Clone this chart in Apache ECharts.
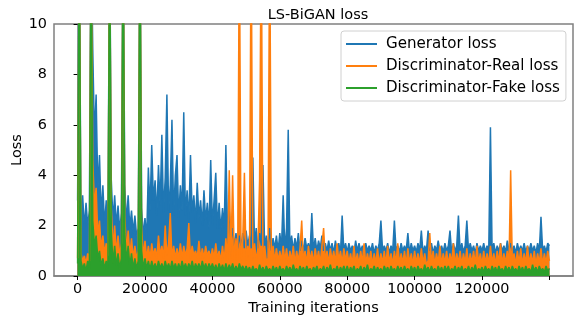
<!DOCTYPE html>
<html>
<head>
<meta charset="utf-8">
<script src="https://cdn.jsdelivr.net/npm/echarts@6/dist/echarts.min.js"></script>
<style>
  html, body { margin: 0; padding: 0; background: #fff; }
  #main { width: 575px; height: 320px; }
</style>
</head>
<body>
<div id="main"></div>
<script>
// one sample every 500 iterations (noise shown as high/low swings)
var STEP = 500;
var xTicks = [0, 20000, 40000, 60000, 80000, 100000, 120000, 140000];
var xTickLabels = [0, 20000, 40000, 60000, 80000, 100000, 120000];
var seriesNames = ['Generator loss', 'Discriminator-Real loss', 'Discriminator-Fake loss'];

var genLoss = [
  3.0, 14, 2.0, 3.2, 1.9, 2.9, 2.0, 2.6, 14, 9.0, 5.5, 7.2, 3.4, 4.8, 2.4, 3.6, 2.0, 3.0, 1.8, 14,
  3.8, 2.2, 3.2, 2.0, 2.8, 1.8, 2.5, 14, 3.6, 2.1, 3.2, 1.9, 2.6, 1.7, 2.4, 1.6, 1.9, 14, 2.7, 1.6,
  2.3, 1.5, 4.3, 2.6, 5.2, 3.0, 3.8, 2.4, 4.4, 2.8, 5.6, 2.5, 3.9, 7.2, 2.6, 3.6, 6.2, 2.4, 4.0, 4.8,
  2.3, 3.6, 2.6, 6.5, 2.4, 3.4, 2.2, 4.8, 2.5, 3.2, 2.1, 3.7, 2.3, 3.0, 2.0, 3.4, 2.2, 2.9, 1.9, 4.6,
  2.0, 3.0, 4.1, 1.9, 2.9, 1.8, 2.7, 1.9, 5.2, 1.7, 2.6, 1.4, 1.9, 1.2, 1.7, 1.1, 1.6, 1.2, 1.7, 1.1,
  1.8, 1.2, 1.6, 1.1, 4.7, 1.2, 1.9, 1.1, 1.7, 1.2, 4.4, 1.1, 1.6, 1.1, 1.9, 1.0, 1.5, 1.1, 1.6, 1.0,
  1.7, 1.1, 3.2, 1.0, 1.9, 5.8, 1.1, 1.6, 1.0, 1.5, 1.1, 1.7, 1.0, 1.4, 1.0, 1.5, 1.1, 1.3, 1.0, 2.5,
  1.0, 1.5, 1.0, 1.4, 1.1, 1.6, 1.0, 1.3, 1.0, 1.4, 1.0, 1.3, 0.9, 1.4, 1.0, 1.3, 0.9, 2.4, 1.0, 1.3,
  0.95, 1.3, 1.0, 1.2, 0.9, 1.4, 1.0, 1.3, 1.0, 1.2, 0.95, 1.3, 1.0, 1.2, 1.0, 1.3, 0.9, 1.2, 1.0, 1.3,
  2.2, 1.0, 1.2, 1.0, 1.3, 0.9, 1.2, 1.0, 2.2, 1.0, 1.2, 0.95, 1.3, 1.0, 1.2, 1.0, 1.7, 0.9, 1.3, 1.0,
  1.2, 0.95, 1.3, 1.0, 1.8, 0.9, 1.2, 1.0, 1.8, 1.0, 1.3, 0.9, 1.2, 1.0, 1.4, 1.0, 1.2, 0.95, 1.3, 1.0,
  1.2, 1.8, 0.9, 1.3, 1.0, 1.2, 2.4, 1.0, 1.3, 0.95, 1.2, 2.2, 1.0, 1.3, 1.0, 1.2, 0.9, 1.3, 1.0, 1.2,
  1.0, 1.3, 0.95, 1.2, 1.0, 5.9, 1.0, 1.3, 0.9, 1.2, 1.0, 1.3, 1.0, 1.2, 0.95, 1.4, 1.0, 1.3, 1.0, 1.2,
  0.9, 1.3, 1.0, 1.2, 1.0, 1.3, 0.95, 1.2, 1.0, 1.3, 1.0, 1.2, 0.9, 1.3, 1.0, 2.35, 1.0, 1.2, 0.95, 1.3,
  1.2
];

var realLoss = [
  0.7, 14, 0.9, 0.6, 0.8, 0.5, 0.9, 0.6, 14, 4.6, 2.8, 3.5, 1.6, 2.2, 1.1, 1.6, 0.9, 1.3, 0.8, 14,
  2.7, 1.1, 2.0, 0.9, 1.6, 0.8, 1.3, 14, 2.4, 1.0, 1.8, 0.8, 1.5, 0.7, 1.2, 0.7, 1.0, 14, 1.9, 0.8,
  1.4, 0.7, 1.2, 0.7, 1.3, 0.8, 1.1, 0.7, 1.6, 0.8, 1.2, 0.7, 2.0, 0.8, 1.3, 2.5, 0.7, 1.2, 0.7, 1.1,
  0.7, 1.3, 0.7, 1.2, 0.8, 1.1, 2.1, 0.7, 1.2, 0.8, 1.0, 0.7, 1.4, 0.7, 1.1, 0.7, 1.2, 0.8, 1.0, 0.7,
  1.1, 0.7, 1.3, 0.7, 1.0, 0.6, 1.2, 0.6, 1.5, 0.6, 4.2, 0.7, 4.0, 0.6, 1.5, 0.6, 14, 0.6, 1.4, 4.1,
  0.6, 1.2, 0.6, 14, 0.6, 1.3, 0.6, 1.1, 3.8, 14, 0.6, 1.2, 0.6, 0.7, 14, 0.6, 1.2, 0.6, 1.1, 0.6,
  1.0, 0.6, 1.2, 0.6, 1.1, 0.5, 1.0, 0.6, 1.2, 0.5, 1.0, 0.6, 1.1, 2.2, 0.6, 1.0, 0.5, 1.2, 0.6, 1.0,
  0.5, 1.1, 0.6, 1.0, 0.5, 1.2, 1.9, 0.6, 1.0, 0.5, 1.1, 0.6, 1.0, 0.5, 1.3, 0.6, 1.0, 0.5, 1.1, 0.6,
  1.0, 0.5, 0.9, 0.45, 1.2, 0.5, 0.9, 0.45, 1.0, 0.5, 1.3, 0.45, 0.9, 0.5, 1.0, 0.45, 0.9, 0.5, 1.1, 0.45,
  0.9, 0.5, 1.0, 0.45, 1.2, 0.5, 0.9, 0.45, 1.0, 0.5, 1.3, 0.45, 0.9, 0.5, 1.0, 0.45, 1.1, 0.5, 0.9, 0.45,
  1.0, 0.5, 0.9, 0.45, 1.1, 0.5, 0.9, 0.45, 0.6, 1.7, 0.5, 1.0, 0.45, 0.9, 0.5, 1.2, 0.45, 0.9, 0.5, 1.0,
  0.45, 0.9, 0.5, 1.3, 0.45, 0.9, 0.5, 1.0, 0.45, 0.9, 0.5, 1.1, 0.45, 0.9, 0.5, 1.0, 0.45, 1.2, 0.5, 0.9,
  0.45, 1.0, 0.5, 0.9, 0.45, 1.2, 0.5, 0.9, 0.45, 1.0, 0.5, 1.3, 0.45, 0.9, 0.5, 1.0, 0.45, 4.2, 0.5, 0.9,
  0.45, 1.0, 0.5, 1.1, 0.45, 0.9, 0.5, 1.2, 0.45, 0.9, 0.5, 1.0, 0.45, 0.9, 0.5, 1.1, 0.45, 0.9, 0.5, 1.0,
  0.6
];

var fakeLoss = [
  0.5, 14, 0.6, 0.3, 0.5, 0.2, 0.6, 0.3, 14, 2.2, 1.2, 1.6, 0.7, 1.0, 0.4, 0.7, 0.3, 0.6, 0.3, 14,
  1.8, 0.5, 1.2, 0.4, 0.9, 0.3, 0.7, 14, 1.7, 0.6, 1.2, 0.4, 0.9, 0.3, 0.7, 0.3, 0.6, 14, 1.0, 0.3,
  0.7, 0.3, 0.6, 0.25, 0.6, 0.3, 0.5, 0.25, 0.6, 0.3, 0.5, 0.25, 0.6, 0.3, 0.5, 0.25, 0.6, 0.3, 0.5, 0.25,
  0.5, 0.25, 0.6, 0.3, 0.5, 0.25, 0.5, 0.3, 0.6, 0.25, 0.5, 0.3, 0.5, 0.25, 0.6, 0.3, 0.5, 0.25, 0.5, 0.3,
  0.5, 0.25, 0.45, 0.2, 0.5, 0.25, 0.45, 0.2, 0.5, 0.2, 0.45, 0.25, 0.5, 0.2, 0.4, 0.2, 0.5, 0.25, 0.4, 0.2,
  0.4, 0.2, 0.35, 0.15, 0.4, 0.2, 0.3, 0.15, 0.45, 0.2, 0.35, 0.15, 0.4, 0.2, 0.3, 0.15, 0.4, 0.2, 0.35, 0.15,
  0.4, 0.2, 0.3, 0.15, 0.4, 0.2, 0.35, 0.15, 0.45, 0.2, 0.3, 0.15, 0.4, 0.2, 0.35, 0.15, 0.4, 0.2, 0.3, 0.15,
  0.35, 0.2, 0.4, 0.15, 0.3, 0.2, 0.4, 0.15, 0.35, 0.2, 0.45, 0.15, 0.3, 0.2, 0.4, 0.15, 0.35, 0.2, 0.4, 0.15,
  0.4, 0.15, 0.35, 0.2, 0.4, 0.15, 0.3, 0.2, 0.4, 0.15, 0.35, 0.2, 0.45, 0.15, 0.3, 0.2, 0.4, 0.15, 0.35, 0.2,
  0.3, 0.15, 0.4, 0.2, 0.35, 0.15, 0.4, 0.2, 0.3, 0.15, 0.4, 0.2, 0.35, 0.15, 0.4, 0.2, 0.3, 0.15, 0.4, 0.2,
  0.35, 0.15, 0.4, 0.2, 0.3, 0.15, 0.45, 0.2, 0.35, 0.15, 0.4, 0.2, 0.3, 0.15, 0.4, 0.2, 0.35, 0.15, 0.4, 0.2,
  0.4, 0.15, 0.3, 0.2, 0.4, 0.15, 0.35, 0.2, 0.4, 0.15, 0.3, 0.2, 0.4, 0.15, 0.35, 0.2, 0.45, 0.15, 0.3, 0.2,
  0.35, 0.15, 0.4, 0.2, 0.3, 0.15, 0.4, 0.2, 0.35, 0.15, 0.4, 0.2, 0.3, 0.15, 0.4, 0.2, 0.35, 0.15, 0.4, 0.2,
  0.3, 0.15, 0.4, 0.2, 0.35, 0.15, 0.4, 0.2, 0.3, 0.15, 0.45, 0.2, 0.35, 0.15, 0.4, 0.2, 0.3, 0.15, 0.4, 0.2,
  0.3
];

function toPairs(arr) {
  return arr.map(function (v, i) { return [i * STEP, v]; });
}

var FONT = 'DejaVu Sans';
var AXIS_COLOR = '#808080';
var chart = echarts.init(document.getElementById('main'), null, { renderer: 'canvas' });

// dense noisy trace: line plus same-colour fill underneath so the band reads solid
function lineSeries(name, data, color) {
  return {
    name: name,
    type: 'line',
    data: toPairs(data),
    showSymbol: false,
    symbol: 'none',
    clip: true,
    lineStyle: { color: color, width: 1.5, join: 'bevel' },
    areaStyle: { color: color, opacity: 1 },
    itemStyle: { color: color },
    emphasis: { disabled: true }
  };
}

var option = {
  animation: false,
  textStyle: { fontFamily: FONT },
  title: {
    text: 'LS-BiGAN loss',
    left: 313,
    top: 3,
    textAlign: 'center',
    textStyle: { fontFamily: FONT, fontSize: 14.5, fontWeight: 'normal', color: '#000' }
  },
  grid: {
    left: 54, right: 2, top: 24, bottom: 44,
    outerBoundsMode: 'none',
    containLabel: false,
    show: true, borderColor: AXIS_COLOR, borderWidth: 1.5, backgroundColor: 'transparent'
  },
  legend: {
    orient: 'vertical',
    left: 341,
    top: 31,
    icon: 'rect',
    itemWidth: 31,
    itemHeight: 2,
    itemGap: 6,
    padding: [5, 6, 5, 5],
    backgroundColor: '#fff',
    borderColor: '#d0d0d0',
    borderWidth: 1,
    borderRadius: 3,
    data: seriesNames,
    textStyle: { fontFamily: FONT, fontSize: 15.1, color: '#000', lineHeight: 16, padding: [0, 0, 0, 4] }
  },
  xAxis: {
    type: 'value',
    min: -7000,
    max: 147000,
    name: 'Training iterations',
    nameLocation: 'middle',
    nameGap: 24,
    nameTextStyle: { fontFamily: FONT, fontSize: 14.5, color: '#000' },
    axisLine: { show: true, onZero: false, lineStyle: { color: AXIS_COLOR, width: 1.5 } },
    axisTick: { show: true, length: 4, customValues: xTicks, lineStyle: { color: '#000' } },
    axisLabel: {
      customValues: xTickLabels,
      margin: 6,
      fontFamily: FONT, fontSize: 14.4, color: '#000',
      formatter: function (v) { return String(v); }
    },
    splitLine: { show: false }
  },
  yAxis: {
    type: 'value',
    min: 0,
    max: 10,
    interval: 2,
    name: 'Loss',
    nameLocation: 'middle',
    nameGap: 29,
    nameMoveOverlap: false,
    nameTextStyle: { fontFamily: FONT, fontSize: 14.5, color: '#000' },
    axisLine: { show: true, lineStyle: { color: AXIS_COLOR, width: 1.5 } },
    axisTick: { show: true, length: 4, lineStyle: { color: '#000' } },
    axisLabel: { margin: 7, fontFamily: FONT, fontSize: 14.4, color: '#000' },
    splitLine: { show: false }
  },
  series: [
    lineSeries(seriesNames[0], genLoss, '#1f77b4'),
    lineSeries(seriesNames[1], realLoss, '#ff7f0e'),
    lineSeries(seriesNames[2], fakeLoss, '#2ca02c')
  ]
};

chart.setOption(option);
</script>
</body>
</html>
